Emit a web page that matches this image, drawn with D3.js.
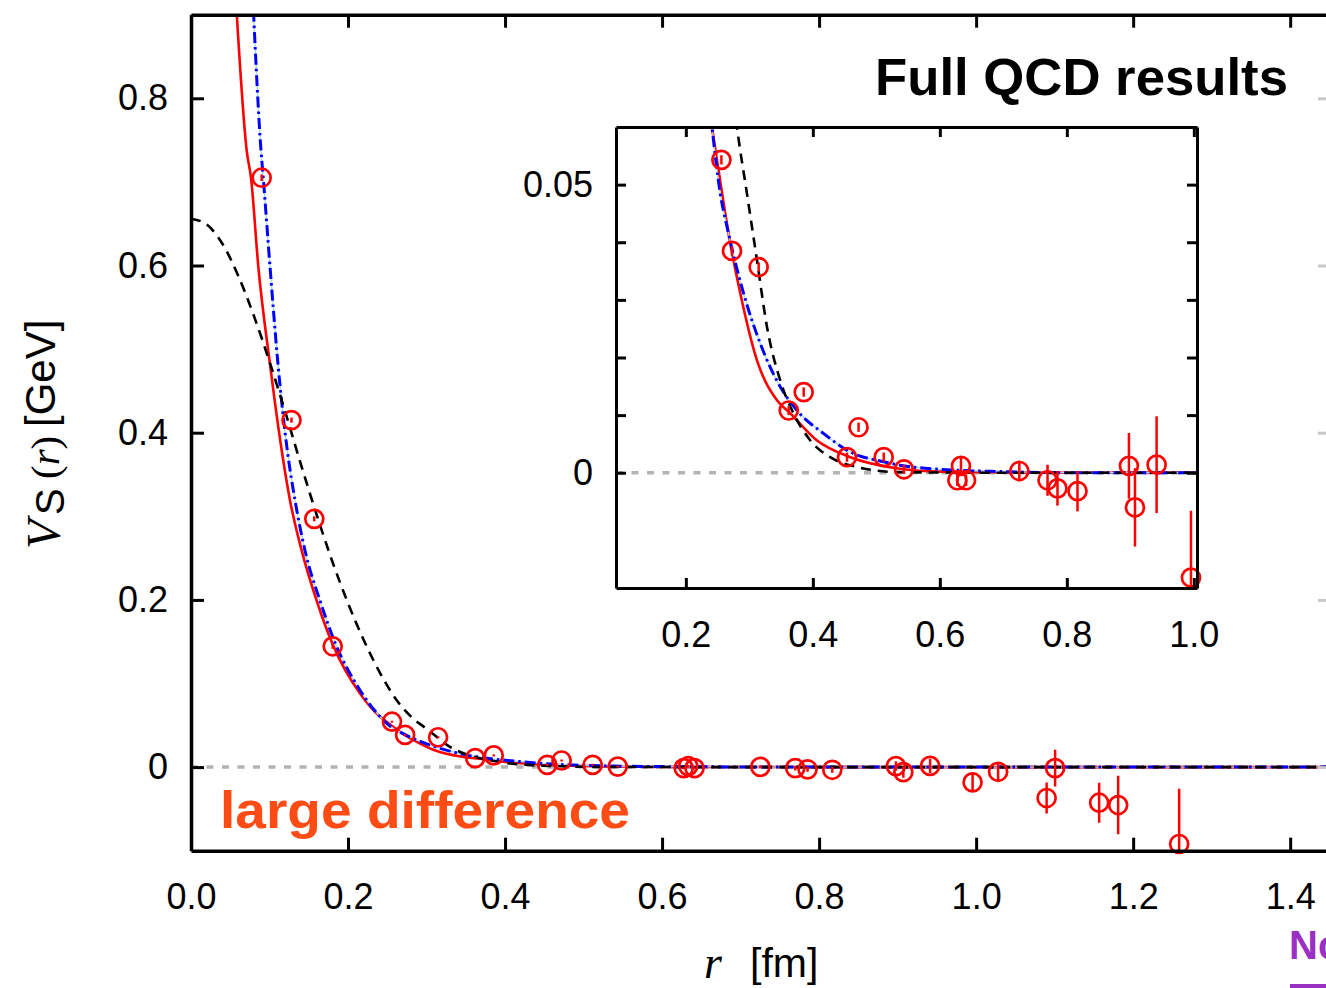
<!DOCTYPE html>
<html>
<head>
<meta charset="utf-8">
<script src="https://cdn.jsdelivr.net/npm/d3@7"></script>
<style>
  body { margin: 0; background: #fff; }
  svg { display: block; }
</style>
</head>
<body>
<svg id="chart" width="1326" height="988"></svg>
<script>
// lattice points: r [fm], V_S(r) [GeV], error [GeV]
const pointR = [0.090, 0.128, 0.157, 0.1805, 0.256, 0.2727, 0.3147, 0.362, 0.3856, 0.4538, 0.472, 0.5116, 0.5435,
  0.6333, 0.6276, 0.6413, 0.7252, 0.7696, 0.7853, 0.8168, 0.8978, 0.9073, 0.9414, 0.9955,
  1.028, 1.0898, 1.1006, 1.1567, 1.1809, 1.2586];
const pointV = [0.705, 0.415, 0.297, 0.1445, 0.0543, 0.0385, 0.0357, 0.0108, 0.014, 0.0027, 0.0079, 0.0027, 0.0006,
  0.0012, -0.0013, -0.0013, 0.0003, -0.0013, -0.0027, -0.0032, 0.0012, -0.006, 0.0014, -0.0182,
  -0.0056, -0.037, -0.0012, -0.0426, -0.0454, -0.092];
const pointErr = [0.004, 0.003, 0.003, 0.003, 0.0008, 0.0008, 0.0008, 0.0008, 0.0008, 0.0008, 0.0008, 0.0008, 0.0008,
  0.0014, 0.001, 0.001, 0.0018, 0.0027, 0.003, 0.0035, 0.0057, 0.0068, 0.0084, 0.0116,
  0.010, 0.0185, 0.022, 0.024, 0.035, 0.066];

// fit curves
const redR = [0.058, 0.071, 0.0764, 0.0857, 0.1006, 0.1155, 0.1261, 0.141, 0.1601, 0.1813, 0.2153, 0.2412, 0.249,
  0.27, 0.2858, 0.312, 0.3435, 0.3645, 0.4066, 0.459, 0.537, 0.6, 0.8, 1.0, 1.5];
const redV = [0.905, 0.737, 0.705, 0.599, 0.482, 0.379, 0.319, 0.259, 0.199, 0.145, 0.088, 0.06, 0.0543,
  0.0398, 0.0311, 0.0195, 0.0126, 0.0103, 0.0056, 0.0027, 0.0007, 0.0002, 0, 0, 0];

const blueR = [0.0795, 0.0892, 0.0921, 0.1006, 0.1108, 0.1227, 0.1325, 0.1452, 0.1643, 0.1834, 0.2153, 0.2412,
  0.2543, 0.2648, 0.291, 0.3173, 0.3487, 0.3751, 0.417, 0.459, 0.5116, 0.537, 0.6, 0.7, 0.8, 1.5];
const blueV = [0.905, 0.737, 0.704, 0.599, 0.482, 0.3785, 0.319, 0.259, 0.199, 0.149, 0.092, 0.06,
  0.0484, 0.0427, 0.0311, 0.0224, 0.0149, 0.0108, 0.0068, 0.0036, 0.0019, 0.0013, 0.0006, 0.0002, 0, 0];

const blackR = [0, 0.02, 0.04, 0.06, 0.08, 0.10, 0.12, 0.14, 0.16, 0.18, 0.20, 0.22, 0.24, 0.262, 0.2806,
  0.2963, 0.312, 0.3278, 0.3487, 0.3696, 0.396, 0.4273, 0.4695, 0.537, 0.7, 1.5];
const blackV = [0.656, 0.649, 0.626, 0.588, 0.540, 0.485, 0.425, 0.362, 0.302, 0.246, 0.196, 0.152, 0.114, 0.080, 0.060,
  0.0484, 0.0369, 0.0253, 0.016, 0.0103, 0.0056, 0.0027, 0.001, 0.0001, 0, 0];

const mainXTicks = [0, 0.2, 0.4, 0.6, 0.8, 1.0, 1.2, 1.4];
const mainYTicks = [0, 0.2, 0.4, 0.6, 0.8];
const insetXTicks = [0.2, 0.4, 0.6, 0.8, 1.0];
const insetYTicks = [0, 0.01, 0.02, 0.03, 0.04, 0.05];
const insetYLabels = [0, 0.05];

const SANS = '"Liberation Sans", Arial, Helvetica, sans-serif';
const SERIF = '"Liberation Serif", "Times New Roman", serif';
const RED = '#ff0000';

const points = pointR.map((r, i) => ({ r, v: pointV[i], e: pointErr[i] }));
const curves = [
  { pts: d3.zip(redR, redV), stroke: RED, width: 2.6, dash: null },
  { pts: d3.zip(blueR, blueV), stroke: '#a6d6ee', width: 1.3, dash: null },
  { pts: d3.zip(blueR, blueV), stroke: '#0000ff', width: 3, dash: '11,4,2.5,4' },
  { pts: d3.zip(blackR, blackV), stroke: '#000', width: 2.6, dash: '10,7' },
];

const svg = d3.select('#chart');

function styleAxis(g, fontSize, lineWidth, color) {
  g.attr('font-size', fontSize).attr('font-family', SANS);
  g.selectAll('.domain').attr('stroke', color || '#000').attr('stroke-width', lineWidth);
  g.selectAll('.tick line').attr('stroke', color || '#000').attr('stroke-width', 3);
  g.selectAll('.tick text').attr('fill', '#000');
}

function drawPanel(opts) {
  const { x, y, id, xTicks, yTicks, xFmt, yFmt, tick, frameWidth, rightAxis } = opts;
  const [x0, x1] = x.range();
  const [y0, y1] = y.range();

  svg.append('clipPath').attr('id', id)
    .append('rect').attr('x', x0).attr('y', y1).attr('width', x1 - x0).attr('height', y0 - y1);

  const g = svg.append('g');
  if (opts.background) {
    g.append('rect').attr('x', x0).attr('y', y1).attr('width', x1 - x0).attr('height', y0 - y1).attr('fill', '#fff');
  }

  const plot = g.append('g').attr('clip-path', `url(#${id})`);

  // zero line
  plot.append('line')
    .attr('x1', x0).attr('x2', x1)
    .attr('y1', y(0)).attr('y2', y(0))
    .attr('stroke', '#b3b3b3').attr('stroke-width', 3.5).attr('stroke-dasharray', '7,8.5');

  const line = d3.line().x((d) => x(d[0])).y((d) => y(d[1])).curve(d3.curveMonotoneX);
  curves.forEach((c) => {
    plot.append('path')
      .attr('d', line(c.pts))
      .attr('fill', 'none')
      .attr('stroke', c.stroke)
      .attr('stroke-width', c.width)
      .attr('stroke-dasharray', c.dash);
  });

  const vis = points.filter((p) => p.r >= x.domain()[0] && p.r <= x.domain()[1]
    && p.v >= y.domain()[0] && p.v <= y.domain()[1]);

  plot.selectAll('line.err')
    .data(vis)
    .enter()
    .append('line')
    .attr('class', 'err')
    .attr('x1', (d) => x(d.r)).attr('x2', (d) => x(d.r))
    .attr('y1', (d) => Math.min(y(d.v + d.e), y(d.v) - 1))
    .attr('y2', (d) => Math.max(y(d.v - d.e), y(d.v) + 1))
    .attr('stroke', RED).attr('stroke-width', 2.5);

  g.selectAll('circle')
    .data(vis)
    .enter()
    .append('circle')
    .attr('cx', (d) => x(d.r)).attr('cy', (d) => y(d.v))
    .attr('r', 9)
    .attr('fill', 'none')
    .attr('stroke', RED).attr('stroke-width', 2.7);

  // frame and ticks
  const left = g.append('g').attr('transform', `translate(${x0},0)`)
    .call(d3.axisLeft(y).tickValues(yTicks).tickSize(-tick).tickSizeOuter(0).tickPadding(23).tickFormat(yFmt));
  styleAxis(left, 36, frameWidth);

  const bottom = g.append('g').attr('transform', `translate(0,${y0})`)
    .call(d3.axisBottom(x).tickValues(xTicks).tickSize(-tick).tickSizeOuter(0).tickPadding(33).tickFormat(xFmt));
  styleAxis(bottom, 36, frameWidth);

  const top = g.append('g').attr('transform', `translate(0,${y1})`)
    .call(d3.axisTop(x).tickValues(xTicks).tickSize(-tick).tickSizeOuter(0).tickFormat(''));
  styleAxis(top, 36, frameWidth);

  const right = g.append('g').attr('transform', `translate(${x1},0)`)
    .call(d3.axisRight(y).tickValues(yTicks).tickSize(-tick).tickSizeOuter(0).tickFormat(''));
  styleAxis(right, 36, frameWidth, rightAxis || '#000');
  return g;
}

// main panel
const x = d3.scaleLinear().domain([0, 1.452]).range([191, 1331]);
const y = d3.scaleLinear().domain([-0.1, 0.9]).range([850.7, 14.7]);
drawPanel({
  x, y, id: 'clipMain', xTicks: mainXTicks, yTicks: mainYTicks,
  xFmt: d3.format('.1f'), yFmt: (d) => (d === 0 ? '0' : d3.format('.1f')(d)),
  tick: 13, frameWidth: 3.5, rightAxis: '#c8c8c8',
});

// inset panel
const xi = d3.scaleLinear().domain([0.09, 1.005]).range([616, 1197]);
const yi = d3.scaleLinear().domain([-0.02, 0.06]).range([588, 127]);
drawPanel({
  x: xi, y: yi, id: 'clipInset', xTicks: insetXTicks, yTicks: insetYTicks,
  xFmt: d3.format('.1f'), yFmt: (d) => (insetYLabels.includes(d) ? (d === 0 ? '0' : d3.format('.2f')(d)) : ''),
  tick: 10, frameWidth: 3, background: true,
});

// texts
svg.append('text')
  .attr('x', 875).attr('y', 95)
  .attr('font-family', SANS).attr('font-weight', 'bold').attr('font-size', 52)
  .attr('textLength', 413).attr('lengthAdjust', 'spacingAndGlyphs')
  .text('Full QCD results');

svg.append('text')
  .attr('x', 220).attr('y', 828)
  .attr('font-family', SANS).attr('font-weight', 'bold').attr('font-size', 52)
  .attr('textLength', 410).attr('lengthAdjust', 'spacingAndGlyphs')
  .attr('fill', '#ff4b14')
  .text('large difference');

// y axis title
const yTitle = svg.append('text').attr('transform', 'rotate(-90)').attr('fill', '#000');
yTitle.append('tspan').attr('x', -549).attr('y', 60)
  .attr('font-family', SERIF).attr('font-style', 'italic').attr('font-size', 48).text('V');
yTitle.append('tspan').attr('x', -515).attr('y', 64)
  .attr('font-family', SANS).attr('font-size', 40).text('S');
yTitle.append('tspan').attr('x', -479).attr('y', 59)
  .attr('font-family', SERIF).attr('font-size', 41).text('(');
yTitle.append('tspan')
  .attr('font-family', SERIF).attr('font-style', 'italic').attr('font-size', 41).text('r');
yTitle.append('tspan')
  .attr('font-family', SERIF).attr('font-size', 41).text(')');
yTitle.append('tspan').attr('x', -427).attr('y', 55)
  .attr('font-family', SANS).attr('font-size', 42).text('[GeV]');

// x axis title
const xTitle = svg.append('text').attr('fill', '#000');
xTitle.append('tspan').attr('x', 704).attr('y', 978)
  .attr('font-family', SERIF).attr('font-style', 'italic').attr('font-size', 46).text('r');
xTitle.append('tspan').attr('x', 750).attr('y', 977)
  .attr('font-family', SANS).attr('font-size', 41).text('[fm]');

// neighbouring panel text, cut by the edge as in the figure
svg.append('text')
  .attr('x', 1289).attr('y', 959)
  .attr('font-family', SANS).attr('font-weight', 'bold').attr('font-size', 40)
  .attr('fill', '#9a2fc4')
  .text('Nc');
svg.append('rect')
  .attr('x', 1290).attr('y', 984).attr('width', 36).attr('height', 4)
  .attr('fill', '#9a2fc4');
</script>
</body>
</html>
